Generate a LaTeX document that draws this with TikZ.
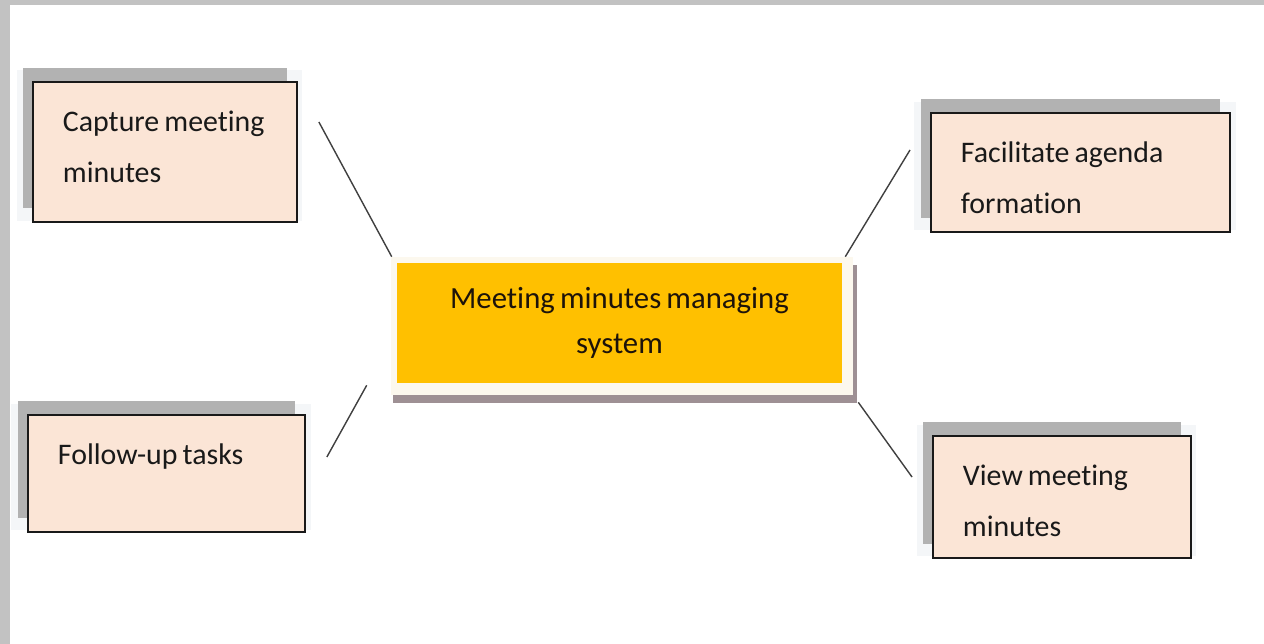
\documentclass[tikz,border=0pt]{standalone}
\usepackage{fontspec}
\setmainfont{Carlito}[WordSpace=0.75, Ligatures=NoCommon]
\usepackage{tikz}
\usetikzlibrary{calc,shadows}
\usepackage{xcolor}
\definecolor{boxfill}{HTML}{FBE5D6}
\definecolor{corefill}{HTML}{FFC000}
\definecolor{coreframe}{HTML}{FCF8EE}
\definecolor{coreshade}{HTML}{9E9094}
\definecolor{edgegray}{HTML}{C2C2C2}
\definecolor{haze}{HTML}{F4F6F8}

\begin{document}
\begin{tikzpicture}[x=0.02cm, y=-0.02cm,
  task/.style={draw=black!90, line width=1.1pt, fill=boxfill, align=left,
    inner xsep=0.6cm, inner ysep=0pt, text height=1cm, anchor=north west,
    text=black!90, font=\fontsize{17}{28.5}\selectfont,
    execute at begin node={\spaceskip=0.17em\relax},
    general shadow={fill=haze, opacity=1, shadow scale=1.08, shadow xshift=-0.1cm, shadow yshift=0.12cm},
    drop shadow={fill=black!30, opacity=1, shadow xshift=-0.19cm, shadow yshift=0.27cm}},
  core/.style={fill=corefill, align=center, minimum width=8.9cm, minimum height=2.4cm,
    text=black!85!brown, font=\fontsize{17.5}{26}\selectfont},
  link/.style={draw=black!75, line width=0.8pt}]
\useasboundingbox (0,0) rectangle (1264,644);
\fill[white] (0,0) rectangle (1264,644);
% Gray frame
\fill[edgegray] (0,0) rectangle (1264,5);
\fill[edgegray] (0,0) rectangle (10,644);

% Central system
\coordinate (mid) at (619.5,323);
\fill[coreshade] ($(mid)+(-227,-58)$) rectangle ($(mid)+(237,80)$);
\fill[coreframe] ($(mid)+(-229,-66)$) rectangle ($(mid)+(233,72)$);
\node[core] (core) at (mid) {Meeting minutes managing\\system};

% Tasks
\node[task, text width=4.08cm, text depth=1.8cm] (cap) at (32,81) {Capture meeting\\minutes};
\node[task, text width=4.34cm, text depth=1.34cm] (fol) at (27,414) {Follow-up tasks};
\node[task, text width=4.78cm, text depth=1.38cm] (fac) at (930,112) {Facilitate agenda\\formation};
\node[task, text width=3.96cm, text depth=1.44cm] (view) at (932,435) {View meeting\\minutes};

% Links
\draw[link] ($(cap.north east)+(21,41)$) -- ($(core.north west)+(-5,-6)$);
\draw[link] ($(fol.north east)+(21,43)$) -- ($(core.south west)+(-30,2)$);
\draw[link] ($(fac.north west)+(-20,38)$) -- ($(core.north east)+(3,-6)$);
\draw[link] ($(view.north west)+(-20,42)$) -- ($(core.south east)+(16,19)$);
\end{tikzpicture}
\end{document}
